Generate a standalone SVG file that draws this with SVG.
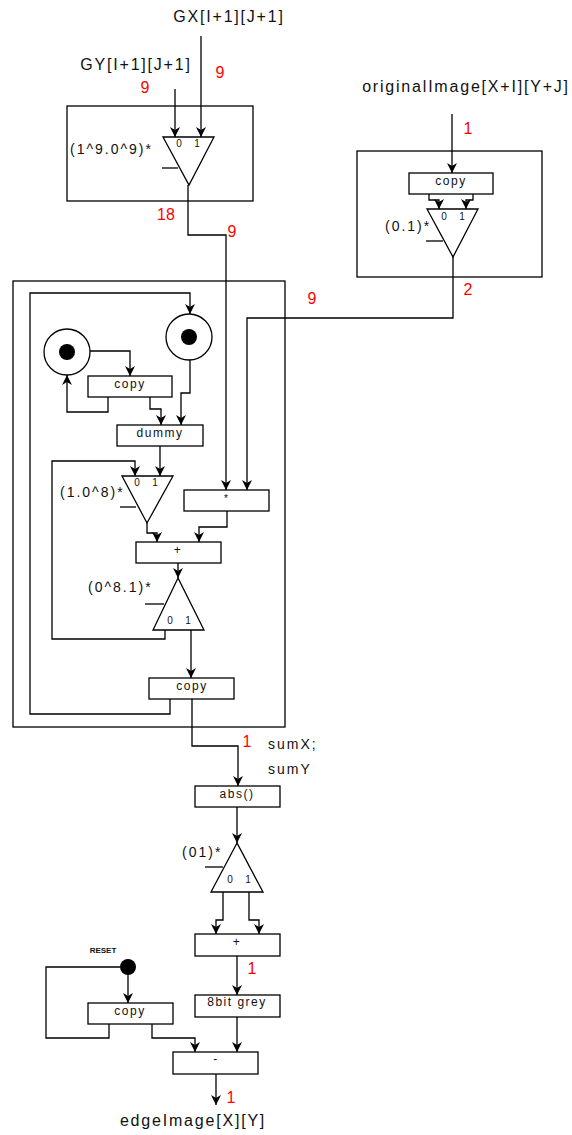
<svg xmlns="http://www.w3.org/2000/svg" width="572" height="1135" viewBox="0 0 572 1135">
<defs>
<marker id="a" viewBox="0 0 10 10" refX="10" refY="5" markerWidth="11" markerHeight="10" orient="auto" markerUnits="userSpaceOnUse"><path d="M0,0 L10,5 L0,10 L3,5 z" fill="#000"/></marker>
<style>
.b{fill:#fff;stroke:#000;stroke-width:1.3}
.f{fill:none;stroke:#000;stroke-width:1.3}
.w{fill:none;stroke:#000;stroke-width:1.3;marker-end:url(#a)}
text{font-family:"Liberation Sans",Arial,sans-serif;fill:#111}
.h{font-size:16px;letter-spacing:1.8px;text-anchor:middle}
.l{font-size:14px;letter-spacing:2px}
.r{font-size:16px;fill:#f00;text-anchor:middle}
.t{font-size:12px;letter-spacing:1.5px;text-anchor:middle}
.d{font-size:10px;text-anchor:middle}
</style>
</defs>
<rect width="572" height="1135" fill="#fff"/>
<g id="boxes">
<rect id="gxgy-box" class="b" x="67" y="106" width="186" height="95"/>
<rect id="orig-box" class="b" x="357" y="151" width="185" height="126"/>
<rect id="loop-box" class="b" x="13" y="281" width="272" height="446"/>
</g>
<g id="connectors">
<path class="w" d="M201,36 V137"/>
<path class="w" d="M175,89 V137"/>
<path class="w" d="M188,185 V235 H226 V490"/>
<path class="w" d="M452,114 V173"/>
<path class="w" d="M429,194 V200 H439 V209"/>
<path class="w" d="M473,194 V200 H466 V209"/>
<path class="w" d="M453,257 V318 H247 V490"/>
<path class="w" d="M170,699 V714 H30 V293 H190 V314"/>
<path class="w" d="M90,351 H130 V376"/>
<path class="w" d="M108,397 V412 H67 V375"/>
<path class="w" d="M150,397 V409 H161 V425"/>
<path class="w" d="M190,360 V393 H181 V425"/>
<path class="w" d="M160,446 V476"/>
<path class="w" d="M165,630 V639 H52 V461 H135 V476"/>
<path class="w" d="M147,523 V533 H157 V542"/>
<path class="w" d="M227,511 V527 H199 V542"/>
<path class="w" d="M178,563 V578"/>
<path class="w" d="M191,630 V678"/>
<path class="w" d="M192,699 V746 H238 V786"/>
<path class="w" d="M237,807 V843"/>
<path class="w" d="M223,892 V920 H216 V934"/>
<path class="w" d="M249,892 V920 H259 V934"/>
<path class="w" d="M237,956 V995"/>
<path class="w" d="M237,1017 V1052"/>
<path class="w" d="M216,1074 V1105"/>
<path class="w" d="M128,975 V1003"/>
<path class="f" d="M120,967 H46 V1038 H109 V1024"/>
<path class="w" d="M152,1024 V1038 H195 V1052"/>
</g>
<g id="tri-gxgy">
<polygon class="b" points="163,137 214,137 189,185"/>
<line class="f" x1="162" y1="168" x2="178" y2="168"/>
<text class="d" x="179" y="147">0</text><text class="d" x="197" y="147">1</text>
<text class="l" x="70" y="154">(1^9.0^9)*</text>
</g>
<g id="copy-orig">
<rect class="b" x="409" y="173" width="84" height="21"/>
<text class="t" x="451" y="185">copy</text>
</g>
<g id="tri-orig">
<polygon class="b" points="427,209 478,209 453,257"/>
<line class="f" x1="426" y1="241" x2="443" y2="241"/>
<text class="d" x="444" y="220">0</text><text class="d" x="462" y="220">1</text>
<text class="l" x="385" y="231">(0.1)*</text>
</g>
<g id="place1">
<circle class="b" cx="67" cy="352" r="23"/><circle cx="67" cy="352" r="8" fill="#000"/>
</g>
<g id="place2">
<circle class="b" cx="189" cy="337" r="23"/><circle cx="189" cy="337" r="8" fill="#000"/>
</g>
<g id="copy-loop">
<rect class="b" x="88" y="376" width="84" height="21"/>
<text class="t" x="130" y="388">copy</text>
</g>
<g id="dummy">
<rect class="b" x="117" y="425" width="86" height="21"/>
<text class="t" x="160" y="437">dummy</text>
</g>
<g id="tri-acc">
<polygon class="b" points="122,476 173,476 147,523"/>
<line class="f" x1="120" y1="507" x2="136" y2="507"/>
<text class="d" x="137" y="486">0</text><text class="d" x="155" y="486">1</text>
<text class="l" x="60" y="497">(1.0^8)*</text>
</g>
<g id="mul">
<rect class="b" x="184" y="490" width="85" height="21"/>
<text class="d" x="226" y="502">*</text>
</g>
<g id="plus1">
<rect class="b" x="136" y="542" width="85" height="21"/>
<text class="t" x="178" y="554">+</text>
</g>
<g id="tri-sel">
<polygon class="b" points="178,578 153,630 204,630"/>
<line class="f" x1="145" y1="604" x2="164" y2="604"/>
<text class="d" x="170" y="624">0</text><text class="d" x="188" y="624">1</text>
<text class="l" x="88" y="592">(0^8.1)*</text>
</g>
<g id="copy-out">
<rect class="b" x="149" y="678" width="85" height="21"/>
<text class="t" x="192" y="690">copy</text>
</g>
<g id="abs">
<rect class="b" x="195" y="786" width="85" height="21"/>
<text class="t" x="237" y="798">abs()</text>
</g>
<g id="tri-01">
<polygon class="b" points="237,843 211,892 263,892"/>
<line class="f" x1="205" y1="867" x2="223" y2="867"/>
<text class="d" x="230" y="883">0</text><text class="d" x="248" y="883">1</text>
<text class="l" x="182" y="857">(01)*</text>
</g>
<g id="plus2">
<rect class="b" x="195" y="934" width="85" height="22"/>
<text class="t" x="237" y="946">+</text>
</g>
<g id="grey">
<rect class="b" x="195" y="995" width="85" height="22"/>
<text class="t" x="237" y="1006">8bit grey</text>
</g>
<g id="reset">
<text x="103" y="953" font-size="8" font-weight="bold" text-anchor="middle" fill="#333">RESET</text>
<circle cx="128" cy="967" r="8" fill="#000"/>
</g>
<g id="copy-reset">
<rect class="b" x="88" y="1003" width="85" height="21"/>
<text class="t" x="130" y="1015">copy</text>
</g>
<g id="minus">
<rect class="b" x="173" y="1052" width="85" height="22"/>
<text class="t" x="216" y="1063">-</text>
</g>
<g id="labels">
<text class="h" x="229" y="22">GX[I+1][J+1]</text>
<text class="h" x="136" y="70">GY[I+1][J+1]</text>
<text class="h" x="466" y="92">originalImage[X+I][Y+J]</text>
<text class="h" x="193" y="1126">edgeImage[X][Y]</text>
<text class="l" x="268" y="749">sumX;</text>
<text class="l" x="268" y="774">sumY</text>
<text class="r" x="220" y="78">9</text>
<text class="r" x="145" y="93">9</text>
<text class="r" x="166" y="220">18</text>
<text class="r" x="232" y="237">9</text>
<text class="r" x="468" y="134">1</text>
<text class="r" x="468" y="295">2</text>
<text class="r" x="312" y="304">9</text>
<text class="r" x="247" y="747">1</text>
<text class="r" x="252" y="974">1</text>
<text class="r" x="231" y="1103">1</text>
</g>
</svg>
